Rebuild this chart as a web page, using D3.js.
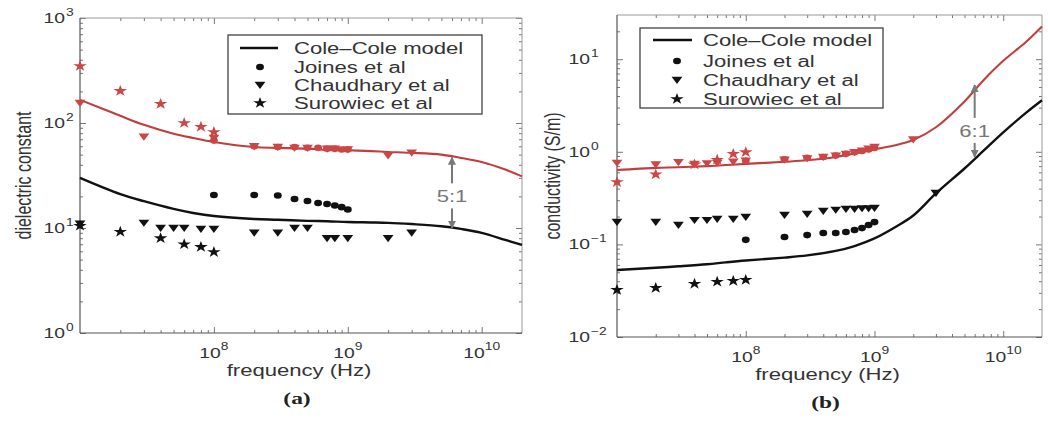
<!DOCTYPE html>
<html>
<head>
<meta charset="utf-8">
<script src="https://cdn.jsdelivr.net/npm/d3@7"></script>
<style>
  body { margin: 0; background: #fff; }
  svg { display: block; font-family: "Liberation Sans", Arial, sans-serif; }
</style>
</head>
<body>
<div id="chart"></div>
<script>
// ---- data ----
const FREQ_DOMAIN = [1e7, 2e10];
const xTicks = [1e8, 1e9, 1e10];
const epsDomain = [1, 1000];
const epsTicks = [1, 10, 100, 1000];
const sigDomain = [0.01, 30];
const sigTicks = [0.01, 0.1, 1, 10];
const legendLabels = ['Cole–Cole model', 'Joines et al', 'Chaudhary et al', 'Surowiec et al'];

// Cole-Cole model curves
const modelFreq = [1e7, 2e7, 3e7, 5e7, 7e7, 1e8, 2e8, 3e8, 5e8, 7e8, 1e9, 1.5e9, 2e9, 3e9, 5e9, 7e9, 1e10, 1.5e10, 2e10];
const epsModelRed = [166, 117, 96, 79, 72, 66, 59, 58, 57, 55.5, 55, 54, 53, 52, 50, 46.5, 42.5, 36, 31];
const epsModelBlack = [30, 21, 18, 15.2, 13.9, 13, 12.2, 12, 11.7, 11.6, 11.4, 11.3, 11.2, 10.9, 10.4, 9.8, 9.0, 7.7, 6.9];
const sigModelRed = [0.635, 0.67, 0.68, 0.70, 0.72, 0.74, 0.78, 0.81, 0.88, 0.96, 1.06, 1.19, 1.34, 1.84, 3.5, 5.9, 9.6, 15.3, 22.5];
const sigModelBlack = [0.053, 0.056, 0.058, 0.061, 0.064, 0.067, 0.072, 0.076, 0.085, 0.096, 0.116, 0.158, 0.205, 0.355, 0.66, 1.02, 1.62, 2.63, 3.6];

// Joines et al (dots)
const joinesFreq = [1e8, 2e8, 3e8, 4e8, 5e8, 6e8, 7e8, 8e8, 9e8, 1e9];
const epsJoinesBlack = [20.6, 20.6, 20.4, 18.9, 18.1, 17.3, 16.9, 16.4, 15.8, 15.0];
const epsJoinesRed = [68, 60, 59, 59, 58, 58, 57, 57, 56, 56];
const sigJoinesBlack = [0.112, 0.120, 0.126, 0.133, 0.133, 0.136, 0.143, 0.150, 0.162, 0.174];
const sigJoinesRed = [0.80, 0.83, 0.86, 0.88, 0.91, 0.95, 0.99, 1.02, 1.06, 1.10];

// Chaudhary et al (triangles)
const chaudFreqA = [1e7, 3e7, 4e7, 5e7, 6e7, 8e7, 1e8, 2e8, 3e8, 4e8, 5e8, 7e8, 8e8, 1e9, 2e9, 3e9];
const epsChaudBlack = [11, 11.2, 10, 10, 10, 9.8, 9.8, 9.0, 9.0, 10, 10, 8.0, 8.0, 8.0, 8.0, 9.0];
const chaudRedFreqA = [1e7, 3e7, 1e8, 2e8, 3e8, 4e8, 5e8, 7e8, 8e8, 1e9, 2e9, 3e9];
const epsChaudRed = [155, 74, 72, 60, 59, 58, 58, 57, 57, 56, 49, 52];
const chaudFreqB = [1e7, 2e7, 3e7, 4e7, 5e7, 6e7, 8e7, 1e8, 2e8, 3e8, 4e8, 5e8, 6e8, 7e8, 8e8, 9e8, 1e9, 3e9];
const sigChaudBlack = [0.175, 0.175, 0.162, 0.183, 0.183, 0.188, 0.188, 0.198, 0.208, 0.213, 0.230, 0.236, 0.241, 0.241, 0.245, 0.245, 0.247, 0.36];
const chaudRedFreqB = [1e7, 2e7, 3e7, 4e7, 5e7, 6e7, 8e7, 1e8, 2e8, 3e8, 4e8, 5e8, 6e8, 7e8, 8e8, 9e8, 1e9, 2e9];
const sigChaudRed = [0.76, 0.73, 0.77, 0.74, 0.75, 0.76, 0.78, 0.80, 0.82, 0.85, 0.88, 0.91, 0.95, 0.99, 1.03, 1.08, 1.13, 1.36];

// Surowiec et al (stars)
const surFreq = [1e7, 2e7, 4e7, 6e7, 8e7, 1e8];
const epsSurRed = [349, 202, 152, 100, 92, 82];
const epsSurBlack = [10.5, 9.2, 8.0, 7.0, 6.6, 5.9];
const sigSurRed = [0.47, 0.57, 0.73, 0.82, 0.95, 0.99];
const sigSurBlack = [0.0323, 0.0339, 0.0375, 0.0395, 0.0404, 0.0414];

// ratio arrows (value at arrow tip, tail, label centre)
const ratioA = { f: 6e9, hi: 47, lo: 10, mid: 20, text: '5:1' };
const ratioB = { f: 6e9, hi: 5.26, lo: 0.88, mid: 1.68, text: '6:1' };

// ---- drawing ----
const RED = '#c23e3e', RED_MK = '#cc4646', INK = '#111', GREY = '#7a7a7a';
const SX = 1.38;   // source figure is stretched sideways; text follows it

const svg = d3.select('#chart').append('svg')
  .attr('width', 1048)
  .attr('height', 422);

svg.append('defs').append('marker')
  .attr('id', 'arrowHead')
  .attr('viewBox', '0 0 10 10')
  .attr('refX', 9).attr('refY', 5)
  .attr('markerWidth', 4).attr('markerHeight', 4)
  .attr('orient', 'auto')
  .append('path').attr('d', 'M0,0L10,5L0,10Z').attr('fill', GREY);

const SYM = {
  dot: d3.symbol().type(d3.symbolCircle).size(34)(),
  star: d3.symbol().type(d3.symbolStar).size(40)(),
  tri: 'M-4.5,-3.2L4.5,-3.2L0,4Z'
};

function txt(g, x, y, str, size, anchor, extra) {
  return g.append('text')
    .attr('transform', `translate(${x},${y}) scale(${SX},1)` + (extra || ''))
    .attr('text-anchor', anchor)
    .attr('font-size', size)
    .attr('fill', '#333')
    .text(str);
}

function minorTicks(dom) {
  const out = [];
  for (let e = Math.floor(Math.log10(dom[0])); e <= Math.ceil(Math.log10(dom[1])); e++) {
    for (let k = 2; k <= 9; k++) {
      const v = k * Math.pow(10, e);
      if (v > dom[0] && v < dom[1]) out.push(v);
    }
  }
  return out;
}

function marks(g, x, y, freqs, vals, shape, color) {
  g.append('g').selectAll('path')
    .data(freqs.map((f, i) => ({ f, v: vals[i] })))
    .join('path')
    .attr('d', SYM[shape])
    .attr('transform', d => `translate(${x(d.f)},${y(d.v)}) scale(1.2,1)`)
    .attr('fill', color);
}

function drawPanel(p) {
  const g = svg.append('g');
  const x = d3.scaleLog().domain(FREQ_DOMAIN).range([p.l, p.r]);
  const y = d3.scaleLog().domain(p.yDomain).range([p.b, p.t]);

  // inward ticks on all four sides
  const tickSets = [
    [d3.axisBottom(x), `0,${p.b}`, xTicks, minorTicks(FREQ_DOMAIN)],
    [d3.axisTop(x), `0,${p.t}`, xTicks, minorTicks(FREQ_DOMAIN)],
    [d3.axisLeft(y), `${p.l},0`, p.yTicks, minorTicks(p.yDomain)],
    [d3.axisRight(y), `${p.r},0`, p.yTicks, minorTicks(p.yDomain)]
  ];
  tickSets.forEach(([ax, tr, major, minor]) => {
    [[major, -6], [minor, -3]].forEach(([vals, len]) => {
      const a = g.append('g').attr('transform', `translate(${tr})`)
        .call(ax.tickValues(vals).tickSize(len).tickFormat(''));
      a.select('.domain').remove();
      a.selectAll('line').attr('stroke', '#777');
    });
  });

  // box
  g.append('line').attr('x1', p.l).attr('x2', p.r).attr('y1', p.t).attr('y2', p.t).attr('stroke', '#999');
  g.append('line').attr('x1', p.r).attr('x2', p.r).attr('y1', p.t).attr('y2', p.b).attr('stroke', '#999');
  g.append('line').attr('x1', p.l).attr('x2', p.l).attr('y1', p.t).attr('y2', p.b).attr('stroke', '#555').attr('stroke-width', 1.2);
  g.append('line').attr('x1', p.l).attr('x2', p.r).attr('y1', p.b).attr('y2', p.b).attr('stroke', '#555').attr('stroke-width', 1.2);

  // tick labels 10^n
  p.yTicks.forEach(v => {
    const e = Math.round(Math.log10(v));
    txt(g, p.l - p.labOff, y(v) + 5, '10', 14, 'end');
    txt(g, p.l - p.labOff + 1, y(v) - 2, e < 0 ? '\u2212' + (-e) : String(e), 10, 'start');
  });
  xTicks.forEach(v => {
    const t = txt(g, x(v), p.b + 25, null, 14, 'middle');
    t.append('tspan').text('10');
    t.append('tspan').attr('dy', -8).attr('font-size', 10).text(Math.round(Math.log10(v)));
  });

  // axis labels
  txt(g, (p.l + p.r) / 2 - 2, p.b + 43, 'frequency (Hz)', 16, 'middle');
  txt(g, p.yLabX, (p.t + p.b) / 2, p.yLabel, 16, 'middle', ' rotate(-90)');
  txt(g, (p.l + p.r) / 2 - 4, p.b + 71, p.tag, 17, 'middle')
    .attr('font-family', '"Liberation Serif", "Times New Roman", serif')
    .attr('font-weight', 'bold')
    .attr('fill', '#222');

  // model curves
  const line = vals => d3.line()
    .x((f, i) => x(f))
    .y((f, i) => y(vals[i]))
    .curve(d3.curveCatmullRom.alpha(0.5))(modelFreq);
  g.append('path').attr('d', line(p.modelBlack)).attr('fill', 'none').attr('stroke', INK).attr('stroke-width', 2.4);
  g.append('path').attr('d', line(p.modelRed)).attr('fill', 'none').attr('stroke', RED).attr('stroke-width', 2.1);

  // measurements
  marks(g, x, y, joinesFreq, p.joinesBlack, 'dot', INK);
  marks(g, x, y, p.chaudFreq, p.chaudBlack, 'tri', INK);
  marks(g, x, y, surFreq, p.surBlack, 'star', INK);
  marks(g, x, y, joinesFreq, p.joinesRed, 'dot', RED_MK);
  marks(g, x, y, p.chaudRedFreq, p.chaudRed, 'tri', RED_MK);
  marks(g, x, y, surFreq, p.surRed, 'star', RED_MK);

  // ratio arrow
  const r = p.ratio, cx = x(r.f), cy = y(r.mid);
  g.append('line').attr('x1', cx).attr('x2', cx).attr('y1', cy - 13).attr('y2', y(r.hi))
    .attr('stroke', GREY).attr('stroke-width', 2).attr('marker-end', 'url(#arrowHead)');
  g.append('line').attr('x1', cx).attr('x2', cx).attr('y1', cy + 12).attr('y2', y(r.lo))
    .attr('stroke', GREY).attr('stroke-width', 2).attr('marker-end', 'url(#arrowHead)');
  txt(g, cx, cy + 6, r.text, 16, 'middle').attr('fill', '#777');

  // legend
  const L = p.legend;
  g.append('rect').attr('x', L.x0).attr('y', L.y0).attr('width', L.x1 - L.x0).attr('height', L.y1 - L.y0)
    .attr('fill', '#fff').attr('stroke', '#333').attr('stroke-width', 1.2);
  g.append('line').attr('x1', L.lineX[0]).attr('x2', L.lineX[1]).attr('y1', L.rows[0]).attr('y2', L.rows[0])
    .attr('stroke', INK).attr('stroke-width', 2.4);
  ['dot', 'tri', 'star'].forEach((s, i) => {
    g.append('path').attr('d', SYM[s])
      .attr('transform', `translate(${L.symX},${L.rows[i + 1]}) scale(1.2,1)`)
      .attr('fill', INK);
  });
  legendLabels.forEach((lab, i) => txt(g, L.textX, L.rows[i] + 6, lab, 16, 'start'));
}

drawPanel({
  l: 80, r: 522, t: 18, b: 333,
  yDomain: epsDomain, yTicks: epsTicks, labOff: 15,
  yLabel: 'dielectric constant', yLabX: 31, tag: '(a)',
  modelRed: epsModelRed, modelBlack: epsModelBlack,
  joinesBlack: epsJoinesBlack, joinesRed: epsJoinesRed,
  chaudFreq: chaudFreqA, chaudBlack: epsChaudBlack,
  chaudRedFreq: chaudRedFreqA, chaudRed: epsChaudRed,
  surBlack: epsSurBlack, surRed: epsSurRed,
  ratio: ratioA,
  legend: { x0: 228, x1: 482, y0: 35, y1: 114, rows: [48, 67, 85, 103], lineX: [240, 278], symX: 260, textX: 294 }
});

drawPanel({
  l: 617, r: 1042, t: 15, b: 337,
  yDomain: sigDomain, yTicks: sigTicks, labOff: 27,
  yLabel: 'conductivity (S/m)', yLabX: 560, tag: '(b)',
  modelRed: sigModelRed, modelBlack: sigModelBlack,
  joinesBlack: sigJoinesBlack, joinesRed: sigJoinesRed,
  chaudFreq: chaudFreqB, chaudBlack: sigChaudBlack,
  chaudRedFreq: chaudRedFreqB, chaudRed: sigChaudRed,
  surBlack: sigSurBlack, surRed: sigSurRed,
  ratio: ratioB,
  legend: { x0: 640, x1: 883, y0: 28, y1: 108, rows: [40, 61, 80, 99], lineX: [653, 692], symX: 677, textX: 703 }
});
</script>
</body>
</html>
